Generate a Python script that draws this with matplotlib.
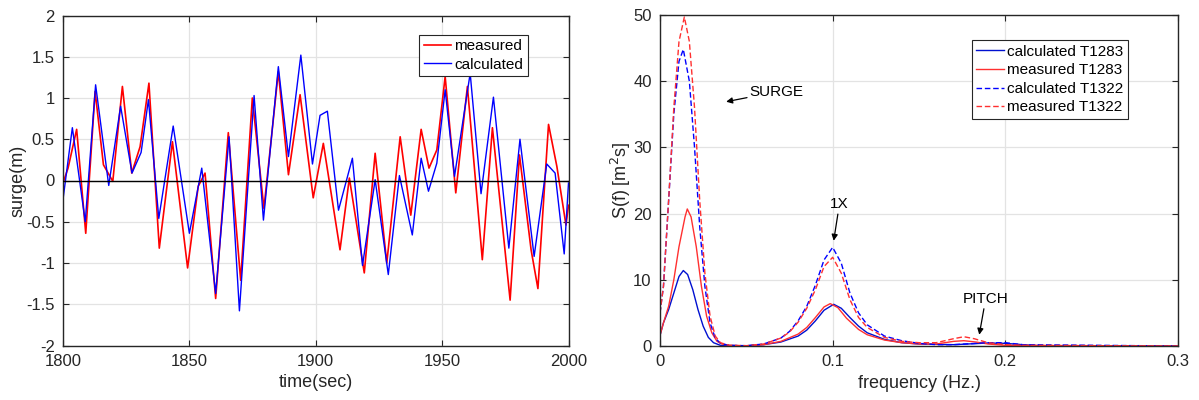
import numpy as np
import matplotlib
matplotlib.use("Agg")
import matplotlib.pyplot as plt

plt.rcParams['font.family'] = ['Liberation Sans', 'DejaVu Sans']

# ---- serie temporal (surge) ----
t_calc = [1800, 1803.7, 1808.8, 1812.9, 1818.1, 1822.8, 1827.3, 1830.9, 1833.8, 1837.9,
          1843.6, 1850.0, 1854.9, 1860.4, 1865.7, 1869.8, 1875.6, 1879.3, 1885.2, 1889.2,
          1894.1, 1898.7, 1901.7, 1904.6, 1909.0, 1914.5, 1918.5, 1923.5, 1928.7, 1933.1,
          1938.2, 1941.7, 1944.6, 1947.9, 1951.2, 1954.9, 1961.1, 1965.4, 1970.3, 1976.4,
          1980.8, 1986.4, 1991.4, 1994.7, 1998.3, 2000]
surge_calc = [-0.23, 0.64, -0.50, 1.16, -0.06, 0.90, 0.09, 0.34, 0.98, -0.46,
              0.66, -0.64, 0.15, -1.37, 0.53, -1.58, 1.03, -0.48, 1.38, 0.29,
              1.52, 0.20, 0.79, 0.84, -0.36, 0.27, -1.03, 0.01, -1.14, 0.06,
              -0.66, 0.27, -0.13, 0.21, 1.10, 0.05, 1.30, -0.16, 1.01, -0.82,
              0.50, -0.92, 0.20, 0.09, -0.89, -0.03]

t_meas = [1800, 1802, 1805.4, 1809.0, 1812.7, 1816.0, 1819.7, 1823.5, 1827.2, 1830.5,
          1834.0, 1838.1, 1843.3, 1849.3, 1853.5, 1856.2, 1860.4, 1865.4, 1870.3, 1874.9,
          1879.5, 1885.2, 1889.2, 1893.8, 1899.0, 1903.0, 1909.6, 1913.3, 1919.2, 1923.5,
          1928.1, 1933.4, 1937.6, 1941.7, 1944.8, 1947.9, 1951.2, 1955.4, 1960.0, 1965.9,
          1969.9, 1976.9, 1980.6, 1985.2, 1987.9, 1992.1, 1995.4, 1999.0, 2000]
surge_meas = [-0.03, 0.15, 0.62, -0.64, 1.08, 0.19, -0.01, 1.14, 0.09, 0.41,
              1.18, -0.82, 0.47, -1.06, -0.07, 0.09, -1.43, 0.58, -1.21, 1.00,
              -0.34, 1.32, 0.07, 1.04, -0.21, 0.45, -0.84, 0.03, -1.12, 0.33,
              -1.00, 0.53, -0.42, 0.62, 0.15, 0.37, 1.26, -0.15, 1.14, -0.96,
              0.64, -1.45, 0.31, -0.84, -1.31, 0.68, 0.17, -0.54, -0.30]

# ---- espectros S(f) ----
f_c1283 = [0, 0.002, 0.005, 0.008, 0.011, 0.0135, 0.016, 0.019, 0.022, 0.025, 0.028, 0.031, 0.035,
           0.05, 0.06, 0.07, 0.08, 0.085, 0.09, 0.095, 0.1006, 0.105, 0.11, 0.115, 0.12, 0.13,
           0.14, 0.15, 0.17, 0.19, 0.2, 0.21, 0.22, 0.3]
s_c1283 = [1.6, 3.5, 5.5, 8.0, 10.5, 11.4, 10.8, 8.5, 5.5, 3.0, 1.3, 0.5, 0.1,
           0.02, 0.2, 0.6, 1.5, 2.4, 3.8, 5.4, 6.3, 5.7, 4.3, 3.0, 2.0, 1.0,
           0.5, 0.3, 0.2, 0.45, 0.4, 0.2, 0.05, 0.0]

f_m1283 = [0, 0.002, 0.005, 0.008, 0.011, 0.0145, 0.0158, 0.018, 0.021, 0.024, 0.027, 0.030, 0.033,
           0.036, 0.04, 0.05, 0.06, 0.07, 0.08, 0.085, 0.09, 0.095, 0.0986, 0.103, 0.108, 0.115,
           0.12, 0.13, 0.14, 0.15, 0.16, 0.17, 0.176, 0.183, 0.19, 0.2, 0.3]
s_m1283 = [1.6, 3.5, 6.0, 10.0, 15.0, 19.5, 20.7, 19.5, 15.0, 9.0, 4.5, 2.0, 0.7,
           0.3, 0.1, 0.02, 0.2, 0.7, 1.8, 2.8, 4.3, 5.9, 6.4, 5.8, 4.2, 2.5,
           1.7, 0.9, 0.5, 0.3, 0.3, 0.7, 0.8, 0.6, 0.3, 0.1, 0.0]

f_c1322 = [0, 0.002, 0.005, 0.008, 0.011, 0.0135, 0.017, 0.020, 0.023, 0.026, 0.029, 0.032, 0.035,
           0.04, 0.05, 0.06, 0.07, 0.075, 0.08, 0.085, 0.09, 0.095, 0.1, 0.105, 0.11, 0.115,
           0.12, 0.13, 0.14, 0.15, 0.16, 0.17, 0.19, 0.2, 0.21, 0.3]
s_c1322 = [5.0, 9.0, 22.0, 35.0, 43.0, 44.8, 40.0, 30.0, 18.0, 9.0, 3.5, 1.2, 0.4,
           0.1, 0.05, 0.3, 1.2, 2.2, 3.8, 6.0, 9.2, 13.0, 14.9, 12.5, 8.0, 5.0,
           3.2, 1.5, 0.8, 0.4, 0.2, 0.2, 0.5, 0.5, 0.2, 0.0]

f_m1322 = [0, 0.002, 0.005, 0.008, 0.011, 0.0141, 0.017, 0.020, 0.023, 0.026, 0.029, 0.032, 0.035,
           0.04, 0.05, 0.06, 0.07, 0.075, 0.08, 0.085, 0.09, 0.095, 0.1, 0.105, 0.11, 0.115,
           0.12, 0.13, 0.14, 0.15, 0.16, 0.17, 0.176, 0.182, 0.19, 0.2, 0.21, 0.3]
s_m1322 = [5.0, 9.0, 22.0, 36.0, 46.0, 49.7, 46.0, 36.0, 22.0, 11.0, 4.5, 1.5, 0.5,
           0.1, 0.05, 0.3, 1.2, 2.1, 3.6, 5.7, 8.5, 12.0, 13.4, 11.0, 7.0, 4.3,
           2.8, 1.3, 0.7, 0.5, 0.5, 1.1, 1.4, 1.1, 0.5, 0.2, 0.1, 0.0]

col_txt = '#262626'
fig = plt.figure(figsize=(11.99, 4.0), dpi=100)
ax1 = fig.add_axes([63/1199, 1-345.5/400, 505.5/1199, 330/400])
ax2 = fig.add_axes([660/1199, 1-346/400, 518/1199, 331/400])

def estilo(ax):
    ax.grid(True, color='#e3e3e3', lw=0.9)
    ax.set_axisbelow(True)
    ax.tick_params(direction='in', top=True, right=True, labelsize=12,
                   colors=col_txt, length=4, width=0.8, pad=6)
    for s in ax.spines.values():
        s.set_color(col_txt)
        s.set_linewidth(1.0)

# Gráfica de surge
ax1.plot(t_meas, surge_meas, color='red', lw=1.2, label='measured')
ax1.plot(t_calc, surge_calc, color='blue', lw=1.0, label='calculated')
ax1.axhline(0, color='k', lw=1.0, zorder=3)
ax1.set_xlim(1800, 2000)
ax1.set_ylim(-2, 2)
ax1.set_xticks(np.arange(1800, 2001, 50))
ax1.set_yticks(np.arange(-2, 2.01, 0.5))
ax1.set_yticklabels(['-2', '-1.5', '-1', '-0.5', '0', '0.5', '1', '1.5', '2'])
ax1.set_xlabel('time(sec)', fontsize=13, color=col_txt, labelpad=4)
ax1.set_ylabel('surge(m)', fontsize=13, color=col_txt, labelpad=0)
estilo(ax1)
leg1 = ax1.legend(loc='upper right', bbox_to_anchor=(0.919, 0.942), fontsize=11,
                  fancybox=False, edgecolor=col_txt, framealpha=1, handlelength=1.8,
                  borderpad=0.3, labelspacing=0.3, handletextpad=0.2, borderaxespad=0)
leg1.get_frame().set_linewidth(0.8)

# Gráfica de espectros
ax2.plot(f_c1283, s_c1283, color='#0010d0', lw=1.0, label='calculated T1283')
ax2.plot(f_m1283, s_m1283, color='#ff3030', lw=1.0, label='measured T1283')
ax2.plot(f_c1322, s_c1322, color='blue', lw=1.0, ls='--', dashes=(4, 2), label='calculated T1322')
ax2.plot(f_m1322, s_m1322, color='#ff3030', lw=1.0, ls='--', dashes=(4, 2), label='measured T1322')
ax2.set_xlim(0, 0.3)
ax2.set_ylim(0, 50)
ax2.set_xticks([0, 0.1, 0.2, 0.3])
ax2.set_xticklabels(['0', '0.1', '0.2', '0.3'])
ax2.set_yticks(np.arange(0, 51, 10))
ax2.set_xlabel('frequency (Hz.)', fontsize=13, color=col_txt, labelpad=4)
ax2.set_ylabel('S(f) [m$^2$s]', fontsize=13, color=col_txt, labelpad=0)
estilo(ax2)
leg2 = ax2.legend(loc='upper right', bbox_to_anchor=(0.903, 0.924), fontsize=11,
                  fancybox=False, edgecolor=col_txt, framealpha=1, handlelength=1.8,
                  borderpad=0.3, labelspacing=0.3, handletextpad=0.2, borderaxespad=0)
leg2.get_frame().set_linewidth(0.8)

flecha = dict(arrowstyle='-|>', color='k', lw=0.9, mutation_scale=9, shrinkA=0, shrinkB=0)
ax2.annotate('SURGE', xy=(0.0383, 36.9), xytext=(0.052, 38.4), fontsize=11,
             va='center', ha='left', arrowprops=flecha)
ax2.annotate('1X', xy=(0.1006, 15.9), xytext=(0.1039, 21.4), fontsize=11,
             va='center', ha='center', arrowprops=flecha)
ax2.annotate('PITCH', xy=(0.1849, 1.7), xytext=(0.1886, 7.1), fontsize=11,
             va='center', ha='center', arrowprops=flecha)

fig.savefig('out.png', dpi=100)
